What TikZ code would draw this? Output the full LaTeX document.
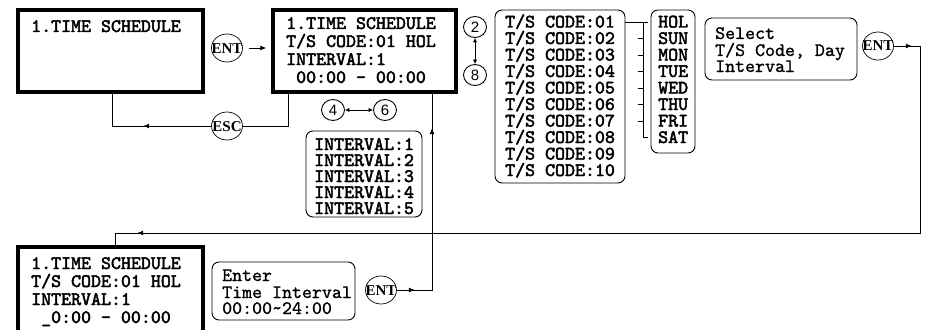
\documentclass[tikz,border=0pt]{standalone}
\usepackage{fontspec}
\setsansfont{Liberation Sans}
\newfontfamily\keyfont{Liberation Serif}
\newfontfamily\lcdbold{lmmono10-regular.otf}[FakeBold=2.5]
\newfontfamily\lcdreg{lmmono10-regular.otf}[FakeBold=1]
\usetikzlibrary{arrows.meta,decorations.markings,calc,shapes.geometric}
\newcommand\keytxt[1]{\makebox[0pt]{#1}}
\tikzset{
  lcd/.style={draw, line width=3.5pt, inner sep=0pt},
  rbox/.style={draw, rounded corners=7pt, line width=0.9pt, inner sep=0pt},
  boldtxt/.style={font=\lcdbold\fontsize{19}{19}\selectfont, anchor=base west, inner sep=0pt, text height=11pt, text depth=1pt},
  plaintxt/.style={font=\lcdreg\fontsize{19}{19}\selectfont, anchor=base west, inner sep=0pt, text height=11pt, text depth=2pt},
  keyc/.style={draw, ellipse, line width=0.7pt, minimum width=31pt, minimum height=28pt, inner sep=0pt, text height=10pt, text depth=0pt, font=\keyfont\bfseries\fontsize{15}{15}\selectfont},
  numc/.style={draw, ellipse, line width=0.9pt, minimum width=23pt, minimum height=21pt, inner sep=0pt, text height=10.5pt, text depth=0pt, font=\sffamily\fontsize{15}{15}\selectfont},
  conn/.style={line width=0.9pt},
  tipa/.style={-{Latex[length=6pt,width=5pt]}},
  dtip/.style={{Latex[length=4.5pt,width=4.5pt]}-{Latex[length=4.5pt,width=4.5pt]}},
  markone/.style={postaction={decorate}, decoration={markings, mark=at position #1 with {\arrow{Latex[length=6pt,width=5pt]}}}},
  marktwo/.style 2 args={postaction={decorate}, decoration={markings,
     mark=at position #1 with {\arrow{Latex[length=6pt,width=5pt]}},
     mark=at position #2 with {\arrow{Latex[length=6pt,width=5pt]}}}},
}
\begin{document}
\begin{tikzpicture}[x=1pt,y=-1pt]
\useasboundingbox (0,0) rectangle (928,329);
% LCD boxes
\node[lcd, minimum width=185pt, minimum height=82pt] (b1) at (110.5,51) {};
\node[lcd, minimum width=183pt, minimum height=82pt] (b2) at (364.5,51) {};
\node[lcd, minimum width=185pt, minimum height=92pt] (b3) at (110.5,293) {};
\node[boldtxt] (b1t) at (31,32) {1.TIME SCHEDULE};
\node[boldtxt] (b2l1) at (286,29) {1.TIME SCHEDULE};
\node[boldtxt] (b2l2) at (286,47) {T/S CODE:01 HOL};
\node[boldtxt] (b2l3) at (286,65) {INTERVAL:1};
\node[boldtxt] (b2l4) at (286,83) {\hphantom{0}00:00 - 00:00};
\node[boldtxt] (b3l1) at (31,269) {1.TIME SCHEDULE};
\node[boldtxt] (b3l2) at (31,287) {T/S CODE:01 HOL};
\node[boldtxt] (b3l3) at (31,305) {INTERVAL:1};
\node[boldtxt] (b3l4) at (31,323) {\hphantom{0}\_0:00 - 00:00};
% T/S code list
\node[rbox, minimum width=130pt, minimum height=173pt] (tsb) at (560,96.5) {};
\foreach \k [evaluate=\k as \yy using 27.5+16.5*(\k-1)] in {1,...,9}
  \node[boldtxt] (ts\k) at (505,\yy) {T/S CODE:0\k};
\node[boldtxt] (ts10) at (505,176) {T/S CODE:10};
% day list
\node[rbox, minimum width=44pt, minimum height=143pt] (db) at (673,81.5) {};
\foreach \d [count=\k from 0, evaluate=\k as \yy using 27.5+16.5*\k] in {HOL,SUN,MON,TUE,WED,THU,FRI,SAT}
  \node[boldtxt] (d\d) at (658,\yy) {\d};
% tree connector
\coordinate (tvt) at (643,22);
\coordinate (tvb) at (643,137.5);
\draw[conn] (tsb.east |- tvt) -- ($(tvt)+(5,0)$);
\draw[conn] (tvt) -- (tvb) -- ++(5,0);
\foreach \k in {1,...,6}
  \draw[conn] ($(tvt)+(0,16.5*\k)$) -- ++(-5,0);
% interval list
\node[rbox, minimum width=116pt, minimum height=86pt] (ib) at (364,174) {};
\foreach \k [evaluate=\k as \yy using 150+16*(\k-1)] in {1,...,5}
  \node[boldtxt] (iv\k) at (314,\yy) {INTERVAL:\k};
% select box
\node[rbox, minimum width=152pt, minimum height=62pt] (sb) at (781,49) {};
\node[plaintxt] (sb1) at (715,39) {Select};
\node[plaintxt] (sb2) at (715,56) {T/S Code, Day};
\node[plaintxt] (sb3) at (715,72) {Interval};
% enter box
\node[rbox, minimum width=143pt, minimum height=58pt] (eb) at (283.5,291) {};
\node[plaintxt] (eb1) at (222,281) {Enter};
\node[plaintxt] (eb2) at (222,298) {Time Interval};
\node[plaintxt] (eb3) at (222,314) {00:00\textasciitilde 24:00};
% keys
\node[keyc] (e1) at (227,48) {\keytxt{ENT}};
\node[keyc] (esc) at (227,126) {\keytxt{ESC}};
\node[keyc] (e2) at (878,46) {\keytxt{ENT}};
\node[keyc] (e3) at (381,290) {\keytxt{ENT}};
\node[numc] (n2) at (475,27) {2};
\node[numc] (n8) at (475,75) {8};
\node[numc] (n4) at (333,110) {4};
\node[numc] (n6) at (385,110) {6};
\draw[conn, dtip] (n2.south) -- (n8.north);
\draw[conn, dtip] (n4.east) -- (n6.west);
% connectors
\draw[conn, tipa, shorten <=6pt, shorten >=5pt] (e1.east) -- (e1.east -| b2.west);
\coordinate (escR) at (288,126);
\coordinate (escL) at (112,126);
\draw[conn] (escR |- b2.south) -- (escR) -- (esc.east);
\draw[conn, markone=68pt] (esc.west) -- (escL) -- (escL |- b1.south);
\coordinate (trc) at (920,46);
\coordinate (brc) at (920,233);
\coordinate (blc) at (115,233);
\draw[conn, marktwo={18pt}{996pt}] (e2.east) -- (trc) -- (brc) -- (blc) -- (blc |- b3.north);
\coordinate (upc) at (432,290);
\draw[conn, marktwo={18pt}{197pt}] (e3.east) -- (upc) -- (upc |- b2.south);
\end{tikzpicture}
\end{document}
